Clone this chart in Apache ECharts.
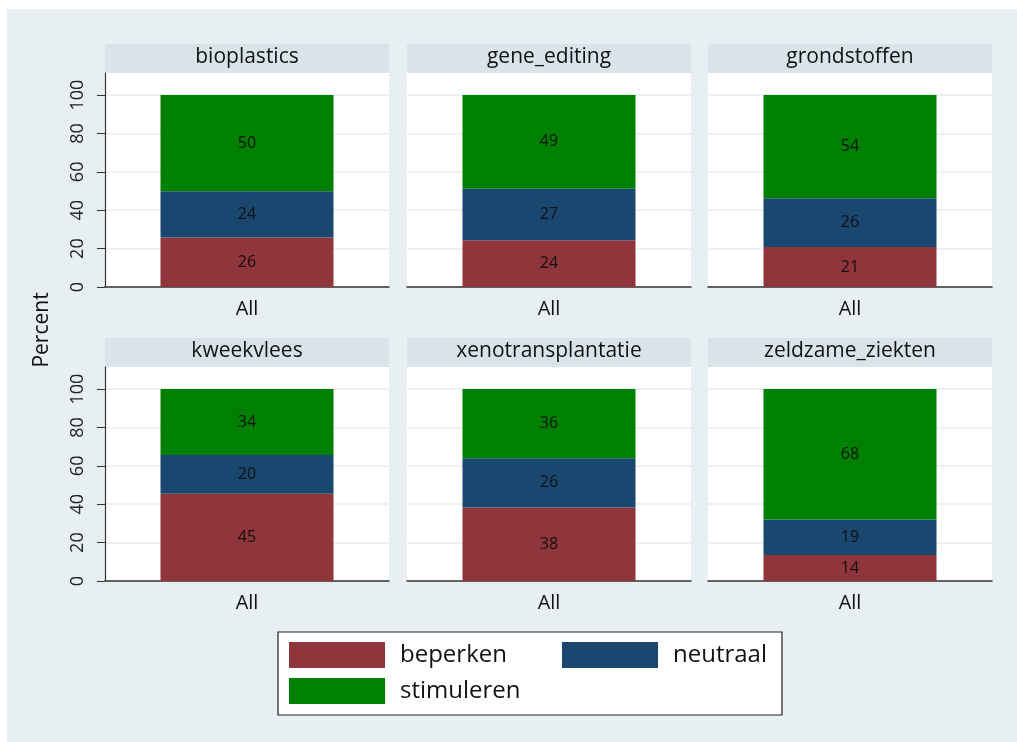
<!DOCTYPE html>
<html>
<head>
<meta charset="utf-8">
<script src="https://cdn.jsdelivr.net/npm/echarts@6/dist/echarts.min.js"></script>
<style>
  html, body { margin: 0; padding: 0; background: #ffffff; }
  #chart { width: 1017px; height: 742px; }
</style>
</head>
<body>
<div id="chart"></div>
<script>
const panels = ["bioplastics", "gene_editing", "grondstoffen", "kweekvlees", "xenotransplantatie", "zeldzame_ziekten"];
const beperken = [25.8, 24.4, 20.8, 45.4, 38.3, 13.5];
const neutraal = [24.1, 26.8, 25.5, 20.2, 25.6, 18.6];
const stimuleren = [50.1, 48.8, 53.7, 34.4, 36.1, 67.9];
const categories = ["All"];
const yTicks = [0, 20, 40, 60, 80, 100];

const seriesDefs = [
  { name: "beperken", values: beperken, color: "#90353b" },
  { name: "neutraal", values: neutraal, color: "#1a476f" },
  { name: "stimuleren", values: stimuleren, color: "#008000" }
];

const FONT = "'Open Sans', Lato, sans-serif";
const colLefts = [105, 407, 708];
const rowTops = [73, 367];
const panelW = 284;
const panelH = 214;
const headerH = 29;

const grid = [];
const xAxis = [];
const yAxis = [];
const series = [];
const graphic = [
  {
    type: "rect", z: -100, silent: true,
    shape: { x: 7, y: 9, width: 1010, height: 733 },
    style: { fill: "#e8eff2" }
  }
];

panels.forEach((name, i) => {
  const col = i % 3;
  const row = Math.floor(i / 3);
  const left = colLefts[col];
  const top = rowTops[row];

  grid.push({
    left, top, width: panelW, height: panelH,
    show: true, backgroundColor: "#ffffff", borderWidth: 0
  });

  xAxis.push({
    type: "category",
    gridIndex: i,
    data: categories,
    axisLine: { show: true, lineStyle: { color: "#333333", width: 1.5 } },
    axisTick: { show: false },
    axisLabel: { color: "#111111", fontSize: 20, fontFamily: FONT, margin: 12 }
  });

  yAxis.push({
    type: "value",
    gridIndex: i,
    min: 0,
    max: 111.5,
    axisLine: { show: col === 0, lineStyle: { color: "#333333", width: 1.2 } },
    axisTick: { show: col === 0, length: 8, customValues: yTicks, lineStyle: { color: "#333333" } },
    axisLabel: {
      show: col === 0, customValues: yTicks, rotate: 90, margin: 18,
      color: "#222222", fontSize: 18, fontFamily: FONT
    },
    splitLine: { show: true, lineStyle: { color: "#e6eef1", width: 1.5 } }
  });

  seriesDefs.forEach(def => {
    series.push({
      name: def.name,
      type: "bar",
      stack: "s" + i,
      xAxisIndex: i,
      yAxisIndex: i,
      barWidth: 173,
      itemStyle: { color: def.color },
      label: {
        show: true,
        position: "inside",
        color: "#111111",
        fontSize: 16,
        fontFamily: FONT,
        formatter: p => String(Math.round(p.value))
      },
      data: [def.values[i]]
    });
  });

  graphic.push({
    type: "rect", silent: true,
    shape: { x: left, y: top - headerH, width: panelW, height: headerH },
    style: { fill: "#d9e4ea" }
  });
  graphic.push({
    type: "text", silent: true, z: 10,
    x: left + panelW / 2, y: top - headerH / 2 - 1,
    style: {
      text: name, fill: "#111111", fontSize: 21, fontFamily: FONT,
      align: "center", verticalAlign: "middle"
    }
  });
});

graphic.push({
  type: "text", silent: true,
  x: 42, y: 330, rotation: Math.PI / 2,
  style: {
    text: "Percent", fill: "#111111", fontSize: 21, fontFamily: FONT,
    align: "center", verticalAlign: "middle"
  }
});

graphic.push({
  type: "rect", silent: true, z: -10,
  shape: { x: 278, y: 632, width: 504, height: 83 },
  style: { fill: "#ffffff", stroke: "#222222", lineWidth: 1.2 }
});

const legendBase = {
  itemWidth: 96, itemHeight: 26, icon: "rect",
  selectedMode: false,
  textStyle: { fontSize: 24, color: "#111111", fontFamily: FONT, padding: [0, 0, 0, 10] }
};

const option = {
  animation: false,
  backgroundColor: "transparent",
  grid, xAxis, yAxis, series, graphic,
  legend: [
    Object.assign({}, legendBase, { data: ["beperken"], left: 284, top: 637 }),
    Object.assign({}, legendBase, { data: ["neutraal"], left: 557, top: 637 }),
    Object.assign({}, legendBase, { data: ["stimuleren"], left: 284, top: 673 })
  ]
};

const chart = echarts.init(document.getElementById("chart"));
chart.setOption(option);
</script>
</body>
</html>
